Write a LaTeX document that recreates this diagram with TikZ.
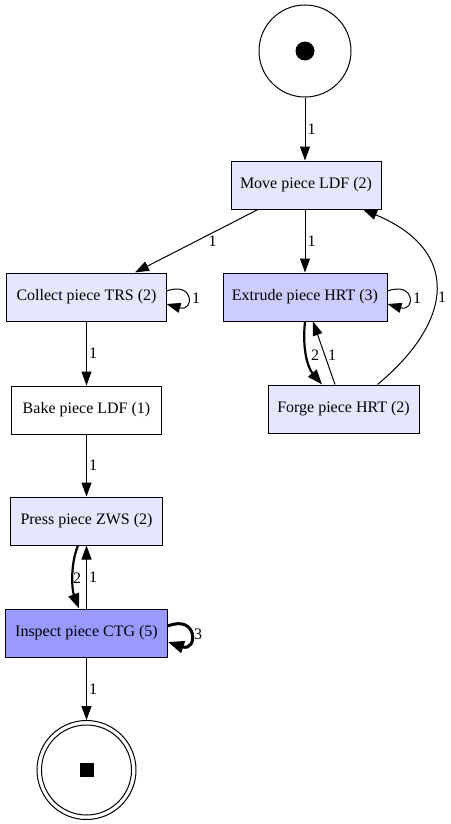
\documentclass[tikz,border=0pt]{standalone}
\usepackage{fontspec}
\setmainfont{Liberation Serif}
\usetikzlibrary{arrows.meta}
\definecolor{lavA}{RGB}{230,230,255}
\definecolor{lavB}{RGB}{204,204,255}
\definecolor{lavC}{RGB}{153,153,255}
\begin{document}
\begin{tikzpicture}[x=1bp,y=-1bp,
  box/.style={draw, line width=1bp, minimum height=48bp, inner sep=0pt,
    font=\fontsize{16bp}{19bp}\selectfont},
  arr/.style={line width=1bp, -{Triangle[length=14bp,width=10bp]}},
  barr/.style={line width=2.2bp, -{Triangle[length=15bp,width=11bp]}},
  lbl/.style={font=\fontsize{16bp}{19bp}\selectfont, inner sep=0pt}]
\useasboundingbox (0,0) rectangle (451,824);

% places
\node[circle, draw, line width=1bp, minimum size=92bp, inner sep=0pt] (start) at (305,51) {};
\node[circle, fill, minimum size=19bp, inner sep=0pt] (dot) at (start.center) {};
\node[circle, draw, line width=1bp, minimum size=99bp, inner sep=0pt] (end) at (86.5,770) {};
\node[circle, draw, line width=1bp, minimum size=90bp, inner sep=0pt] (endin) at (end.center) {};
\node[fill, minimum size=14bp, inner sep=0pt] (sq) at (end.center) {};

% transitions
\node[box, fill=lavA, minimum width=150bp] (move)  at (306,185)   {Move piece LDF (2)};
\node[box, fill=lavA, minimum width=159bp] (coll)  at (86.5,297)  {Collect piece TRS (2)};
\node[box, fill=lavB, minimum width=164bp] (ext)   at (305,297)   {Extrude piece HRT (3)};
\node[box, fill=white, minimum width=149bp] (bake) at (86.5,410)  {Bake piece LDF (1)};
\node[box, fill=lavA, minimum width=151bp] (forge) at (343.5,409) {Forge piece HRT (2)};
\node[box, fill=lavA, minimum width=152bp] (press) at (86.5,521)  {Press piece ZWS (2)};
\node[box, fill=lavC, minimum width=162bp] (insp)  at (86.5,633)  {Inspect piece CTG (5)};

% edges
\draw[arr] (start.south) -- (start.south |- move.north)
  node[lbl, midway, right=2bp] (l1) {1};
\draw[arr] ([xshift=-48bp]move.south) -- ([xshift=48.5bp]coll.north)
  node[lbl, midway, xshift=16bp] (l2) {1};
\draw[arr] (move.south -| ext.north) -- (ext.north)
  node[lbl, midway, right=2bp] (l3) {1};
\draw[arr] ([yshift=6bp]coll.east) .. controls +(28,-10) and +(28,8) .. ([yshift=-7bp]coll.east);
\node[lbl] (l4) at (196,298) {1};
\draw[arr] ([yshift=6bp]ext.east) .. controls +(28,-10) and +(28,8) .. ([yshift=-7bp]ext.east);
\node[lbl] (l5) at (417,298) {1};
\draw[barr] (ext.south) .. controls (302,350) and (308,368) .. ([xshift=-21.5bp]forge.north);
\node[lbl] (l6) at (315,355) {2};
\draw[arr] ([xshift=-8.5bp]forge.north) -- ([xshift=8bp]ext.south);
\node[lbl] (l7) at (332,355) {1};
\draw[arr] ([xshift=34bp]forge.north) .. controls (455,320) and (460,250) .. ([xshift=57bp]move.south);
\node[lbl] (l8) at (442,297) {1};
\draw[arr] (coll.south) -- (bake.north)
  node[lbl, midway, right=2bp] (l9) {1};
\draw[arr] (bake.south) -- (press.north)
  node[lbl, midway, right=2bp] (l10) {1};
\draw[barr] ([xshift=-8.5bp]press.south) .. controls (70,565) and (72,590) .. ([xshift=-7.5bp]insp.north);
\node[lbl] (l11) at (77,578) {2};
\draw[arr] (insp.north) -- (press.south)
  node[lbl, midway, right=2bp] (l12) {1};
\draw[line width=3bp, -{Triangle[length=16bp,width=12bp]}] ([yshift=7bp]insp.east) .. controls +(30,-12) and +(30,10) .. ([yshift=-9bp]insp.east);
\node[lbl] (l13) at (198,634) {3};
\draw[arr] (insp.south) -- (end.north)
  node[lbl, midway, right=2bp] (l14) {1};
\end{tikzpicture}
\end{document}
